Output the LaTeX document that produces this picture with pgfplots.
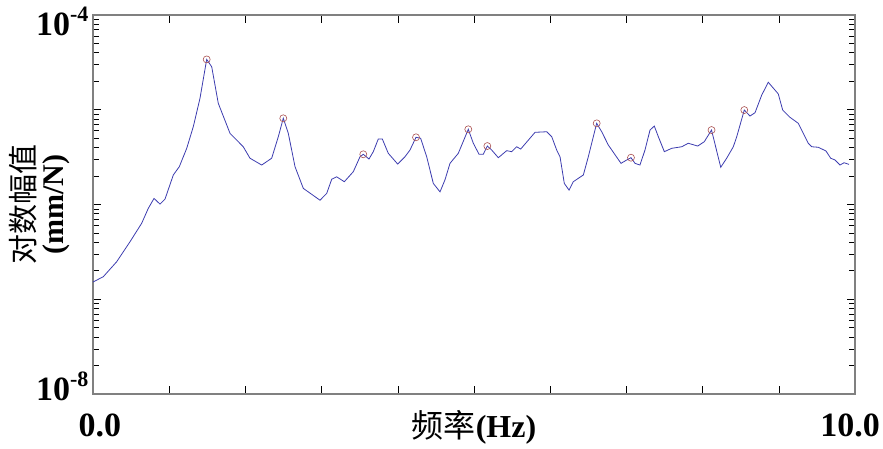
\documentclass[border=0pt]{standalone}
\usepackage{pgfplots}
\pgfplotsset{compat=1.18}
\usepackage{pgfplotstable}
\usepackage{fontspec}
\setmainfont{Liberation Serif}
\newfontfamily\cjk{Noto Sans CJK SC}

\definecolor{curve}{RGB}{60,60,175}
\definecolor{peak}{RGB}{170,80,80}
\newcommand\tenpow[1]{10\raisebox{0.40em}{\fontsize{22}{22}\selectfont\bfseries -#1}}

\pgfplotstableread{
x y
0.000 1.52e-7
0.135 1.73e-7
0.311 2.49e-7
0.486 4.05e-7
0.639 6.34e-7
0.726 9.12e-7
0.801 1.16e-6
0.879 1.01e-6
0.945 1.14e-6
1.054 2.05e-6
1.133 2.51e-6
1.230 3.92e-6
1.316 6.62e-6
1.404 1.32e-5
1.492 3.40e-5
1.558 2.84e-5
1.644 1.17e-5
1.798 5.64e-6
1.972 4.07e-6
2.060 3.08e-6
2.214 2.61e-6
2.345 3.08e-6
2.432 5.20e-6
2.497 8.13e-6
2.563 5.64e-6
2.651 2.51e-6
2.760 1.48e-6
2.979 1.11e-6
3.067 1.31e-6
3.133 1.85e-6
3.198 1.96e-6
3.298 1.74e-6
3.416 2.22e-6
3.504 3.19e-6
3.547 3.39e-6
3.622 3.02e-6
3.678 3.61e-6
3.744 4.91e-6
3.797 4.91e-6
3.875 3.47e-6
3.999 2.67e-6
4.094 3.19e-6
4.160 3.76e-6
4.239 5.12e-6
4.300 5.00e-6
4.379 3.19e-6
4.466 1.67e-6
4.554 1.36e-6
4.619 1.82e-6
4.685 2.72e-6
4.794 3.47e-6
4.925 6.22e-6
4.991 4.43e-6
5.066 3.39e-6
5.122 3.39e-6
5.175 4.14e-6
5.232 3.76e-6
5.319 3.12e-6
5.429 3.70e-6
5.495 3.61e-6
5.560 4.07e-6
5.613 3.85e-6
5.801 5.78e-6
5.954 5.86e-6
6.020 5.20e-6
6.085 3.76e-6
6.129 3.19e-6
6.185 1.67e-6
6.247 1.42e-6
6.303 1.74e-6
6.435 2.05e-6
6.500 3.19e-6
6.610 7.19e-6
6.676 5.86e-6
6.762 4.25e-6
6.929 2.72e-6
7.004 2.95e-6
7.060 3.12e-6
7.113 2.72e-6
7.178 2.61e-6
7.244 3.76e-6
7.310 6.11e-6
7.366 6.73e-6
7.419 5.20e-6
7.498 3.61e-6
7.595 3.92e-6
7.726 4.07e-6
7.812 4.43e-6
7.936 4.14e-6
8.022 4.60e-6
8.117 6.11e-6
8.238 2.47e-6
8.316 3.08e-6
8.403 4.07e-6
8.448 5.20e-6
8.547 9.93e-6
8.622 8.59e-6
8.688 9.31e-6
8.776 1.43e-5
8.862 1.95e-5
8.993 1.47e-5
9.051 9.93e-6
9.147 8.32e-6
9.256 7.19e-6
9.387 4.43e-6
9.432 4.07e-6
9.518 4.02e-6
9.619 3.67e-6
9.681 3.08e-6
9.738 2.95e-6
9.803 2.61e-6
9.856 2.76e-6
9.921 2.65e-6
}\spectrum

\pgfplotstableread{
x y
1.492 3.40e-5
2.497 8.13e-6
3.547 3.39e-6
4.239 5.12e-6
4.925 6.22e-6
5.175 4.14e-6
6.610 7.19e-6
7.060 3.12e-6
8.117 6.11e-6
8.547 9.93e-6
}\peaks

\begin{document}
\begin{tikzpicture}
\begin{axis}[
  name=ax,
  scale only axis,
  width=762pt, height=379pt,
  xmin=0, xmax=10,
  ymode=log, ymin=1e-8, ymax=1e-4,
  xtick={0,1,...,10},
  xticklabels={\hspace*{14pt}0.0,,,,,,,,,,10.0\hspace*{10pt}},
  minor x tick num=0,
  ytick={1e-8,1e-7,1e-6,1e-5,1e-4},
  yticklabels={\raisebox{-6pt}{\tenpow{8}},,,,\raisebox{-20pt}{\tenpow{4}}},
  tick align=inside,
  major tick length=8pt, minor tick length=6pt,
  tick style={black, line width=0.6pt},
  axis line style={draw=gray, line width=1.5pt},
  xticklabel style={font=\bfseries\fontsize{34}{34}\selectfont, anchor=base, yshift=-42pt},
  yticklabel style={font=\bfseries\fontsize{34}{34}\selectfont, anchor=base east, xshift=-1pt},
  xlabel={{\cjk 频率}\textbf{(Hz)}},
  xlabel style={at={(axis description cs:0.5,-0.116)}, anchor=base, font=\fontsize{32}{32}\selectfont},
  ylabel={{\cjk 对数幅值}\\\textbf{(mm/N)}},
  ylabel style={at={(axis description cs:-0.0696,0.5)}, anchor=center, rotate=0, align=center, font=\fontsize{30}{29}\selectfont},
]
\addplot[curve, line width=0.8pt] table {\spectrum};
\addplot[only marks, mark=o, mark size=3.5pt, mark options={draw=peak, line width=0.6pt}] table {\peaks};
\end{axis}
\pgfresetboundingbox
\path[use as bounding box] ([shift={(-93pt,-54pt)}]ax.south west) rectangle ([shift={(28pt,15pt)}]ax.north east);
\end{tikzpicture}
\end{document}
